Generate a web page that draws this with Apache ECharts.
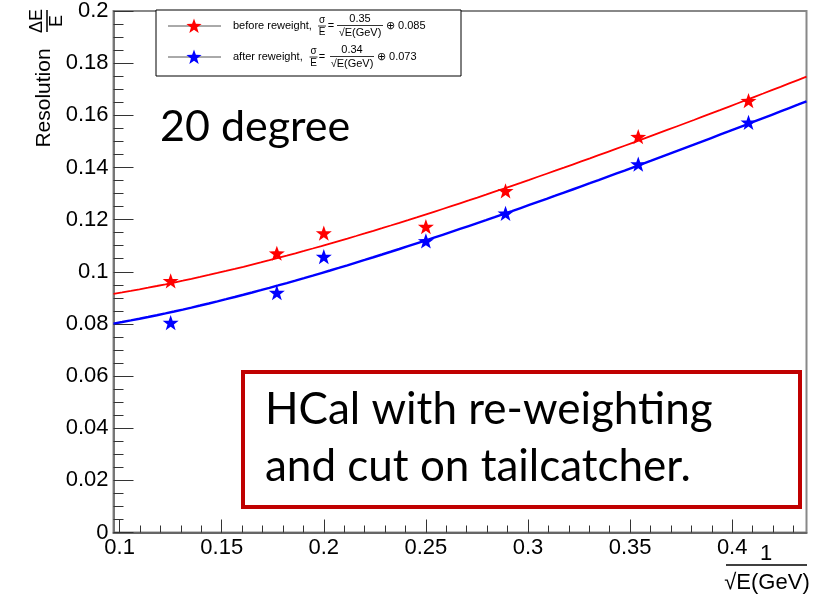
<!DOCTYPE html>
<html>
<head>
<meta charset="utf-8">
<script src="https://cdn.jsdelivr.net/npm/echarts@6/dist/echarts.min.js"></script>
<style>
  html, body { margin: 0; padding: 0; background: #fff; }
  #chart { width: 823px; height: 595px; }
</style>
</head>
<body>
<div id="chart"></div>
<script>
// Energy points expressed as 1/sqrt(E[GeV])
const invSqrtE = [0.125, 0.177, 0.2, 0.25, 0.289, 0.354, 0.408];
// Measured resolution dE/E
const resBefore = [0.0965, 0.1071, 0.1148, 0.1173, 0.1310, 0.1518, 0.1656];
const resAfter  = [0.0805, 0.0920, 0.1058, 0.1118, 0.1224, 0.1413, 0.1573];
// Fit parameters: sigma/E = a/sqrt(E) (+) b   [before, after]
const fitStochastic = [0.35, 0.34];
const fitConstant   = [0.085, 0.073];

const xRange = [0.097, 0.4364];
const yRange = [0, 0.2];
const xMajorTicks = [0.1, 0.15, 0.2, 0.25, 0.3, 0.35, 0.4];
const xMinorTicks = [0.1, 0.11, 0.12, 0.13, 0.14, 0.15, 0.16, 0.17, 0.18, 0.19,
                     0.2, 0.21, 0.22, 0.23, 0.24, 0.25, 0.26, 0.27, 0.28, 0.29,
                     0.3, 0.31, 0.32, 0.33, 0.34, 0.35, 0.36, 0.37, 0.38, 0.39,
                     0.4, 0.41, 0.42, 0.43];

// five-pointed star outline on a 100x100 box
const STAR_PTS = [[50, 0], [61.76, 33.82], [97.55, 34.55], [69.02, 56.18], [79.39, 90.45],
                  [50, 70], [20.61, 90.45], [30.98, 56.18], [2.45, 34.55], [38.24, 33.82]];
const STAR = 'path://' + STAR_PTS.map((p, i) => (i ? 'L' : 'M') + p[0] + ' ' + p[1]).join(' ') + ' Z';
const FONT = '"Liberation Sans", Arial, Helvetica, sans-serif';
const SLIDE_FONT = 'Lato, "Open Sans", sans-serif';

// quadrature sum of the stochastic and constant terms
function fitCurve(i) {
  const pts = [];
  const n = 80;
  for (let k = 0; k <= n; k++) {
    const x = xRange[0] + (xRange[1] - xRange[0]) * k / n;
    const a = fitStochastic[i] * x;
    pts.push([x, Math.sqrt(a * a + fitConstant[i] * fitConstant[i])]);
  }
  return pts;
}
const pairs = ys => invSqrtE.map((x, i) => [x, ys[i]]);

function txt(x, y, text, size, align, extra) {
  return Object.assign({
    type: 'text', x: x, y: y, z: 100,
    style: { text: text, fontSize: size, fontFamily: FONT, fill: '#000',
             align: align || 'center', verticalAlign: 'middle' }
  }, extra || {});
}
function seg(x1, y1, x2, y2, w, c) {
  return { type: 'line', z: 100, shape: { x1: x1, y1: y1, x2: x2, y2: y2 },
           style: { stroke: c || '#000', lineWidth: w || 1 } };
}
function star(cx, cy, size, color) {
  const s = size / 100;
  return { type: 'polygon', z: 101,
           shape: { points: STAR_PTS.map(p => [cx + (p[0] - 50) * s, cy + (p[1] - 47.2) * s]) },
           style: { fill: color } };
}

const legendEntries = [
  { cy: 26, color: '#ff0000', label: 'before reweight,', sx: 322, eqx: 331,
    num: '0.35', fx1: 337, fx2: 383, tail: '\u2295 0.085', tx: 386 },
  { cy: 57, color: '#0000ff', label: 'after reweight,', sx: 313.5, eqx: 322,
    num: '0.34', fx1: 330, fx2: 374, tail: '\u2295 0.073', tx: 377 }
];

const graphics = [
  // legend box
  { type: 'rect', z: 90, shape: { x: 156, y: 10, width: 305, height: 66 },
    style: { fill: '#fff', stroke: '#000', lineWidth: 1 } }
];
legendEntries.forEach(e => {
  const fc = (e.fx1 + e.fx2) / 2;
  graphics.push(
    seg(168, e.cy, 221, e.cy, 1, '#555'),
    star(194, e.cy, 16, e.color),
    txt(233, e.cy, e.label, 11, 'left'),
    txt(e.sx, e.cy - 6, '\u03c3', 10),
    seg(e.sx - 4, e.cy, e.sx + 4, e.cy, 0.8),
    txt(e.sx, e.cy + 6, 'E', 10),
    txt(e.eqx, e.cy, '=', 11),
    txt(fc, e.cy - 7, e.num, 11),
    seg(e.fx1, e.cy - 0.5, e.fx2, e.cy - 0.5, 0.8),
    txt(fc, e.cy + 6.5, '\u221aE(GeV)', 11),
    txt(e.tx, e.cy, e.tail, 11, 'left')
  );
});

// axis titles
graphics.push(
  txt(44, 98, 'Resolution', 21, 'center', { rotation: Math.PI / 2 }),
  txt(37, 21, '\u0394E', 18, 'center', { rotation: Math.PI / 2 }),
  seg(47, 10, 47, 32, 1.5),
  txt(57, 21, 'E', 18, 'center', { rotation: Math.PI / 2 }),
  txt(766, 554, '1', 22),
  seg(726, 565, 807, 565, 1.5),
  txt(767, 583, '\u221aE(GeV)', 22)
);

// annotations
graphics.push(
  { type: 'text', z: 100, x: 160, y: 106,
    style: { text: '20 degree', fontSize: 43, fontFamily: SLIDE_FONT, fill: '#000' } },
  { type: 'rect', z: 95, shape: { x: 243, y: 372, width: 557, height: 135 },
    style: { fill: '#fff', stroke: '#c00000', lineWidth: 4 } },
  { type: 'text', z: 100, x: 265, y: 388,
    style: { text: 'HCal with re-weighting', fontSize: 44, fontFamily: SLIDE_FONT, fill: '#000' } },
  { type: 'text', z: 100, x: 265, y: 445,
    style: { text: 'and cut on tailcatcher.', fontSize: 44, fontFamily: SLIDE_FONT, fill: '#000' } }
);

const chart = echarts.init(document.getElementById('chart'), null, { renderer: 'canvas' });
chart.setOption({
  animation: false,
  backgroundColor: '#fff',
  grid: { left: 113.5, right: 16.5, top: 11, bottom: 62.5, show: true,
          borderColor: '#888', borderWidth: 2, backgroundColor: 'transparent' },
  xAxis: [
    {
      type: 'value', min: xRange[0], max: xRange[1], position: 'bottom',
      axisLine: { show: true, lineStyle: { color: '#666', width: 2 } },
      axisTick: { show: true, inside: true, length: 13, customValues: xMajorTicks,
                  lineStyle: { color: '#333', width: 1 } },
      axisLabel: { show: true, customValues: xMajorTicks, fontSize: 22, fontFamily: FONT,
                   color: '#000', margin: 4 },
      splitLine: { show: false }
    },
    {
      type: 'value', min: xRange[0], max: xRange[1], position: 'bottom', offset: 0,
      axisLine: { show: false },
      axisTick: { show: true, inside: true, length: 7, customValues: xMinorTicks,
                  lineStyle: { color: '#333', width: 1 } },
      axisLabel: { show: false },
      splitLine: { show: false }
    }
  ],
  yAxis: {
    type: 'value', min: yRange[0], max: yRange[1], interval: 0.02,
    axisLine: { show: true, lineStyle: { color: '#777', width: 2 } },
    axisTick: { show: true, inside: true, length: 20, lineStyle: { color: '#333', width: 1 } },
    minorTick: { show: true, splitNumber: 4, length: 10, lineStyle: { color: '#333', width: 1 } },
    axisLabel: { fontSize: 22, fontFamily: FONT, color: '#000', margin: 5 },
    splitLine: { show: false }
  },
  series: [
    { name: 'fit before', type: 'line', data: fitCurve(0), showSymbol: false, smooth: false,
      lineStyle: { color: '#ff0000', width: 1.8 }, z: 2 },
    { name: 'fit after', type: 'line', data: fitCurve(1), showSymbol: false, smooth: false,
      lineStyle: { color: '#0000ff', width: 2.4 }, z: 2 },
    { name: 'before reweight', type: 'scatter', data: pairs(resBefore), symbol: STAR,
      symbolSize: 16, symbolKeepAspect: true, itemStyle: { color: '#ff0000', opacity: 1 }, z: 3 },
    { name: 'after reweight', type: 'scatter', data: pairs(resAfter), symbol: STAR,
      symbolSize: 16, symbolKeepAspect: true, itemStyle: { color: '#0000ff', opacity: 1 }, z: 3 }
  ],
  graphic: graphics
});
</script>
</body>
</html>
